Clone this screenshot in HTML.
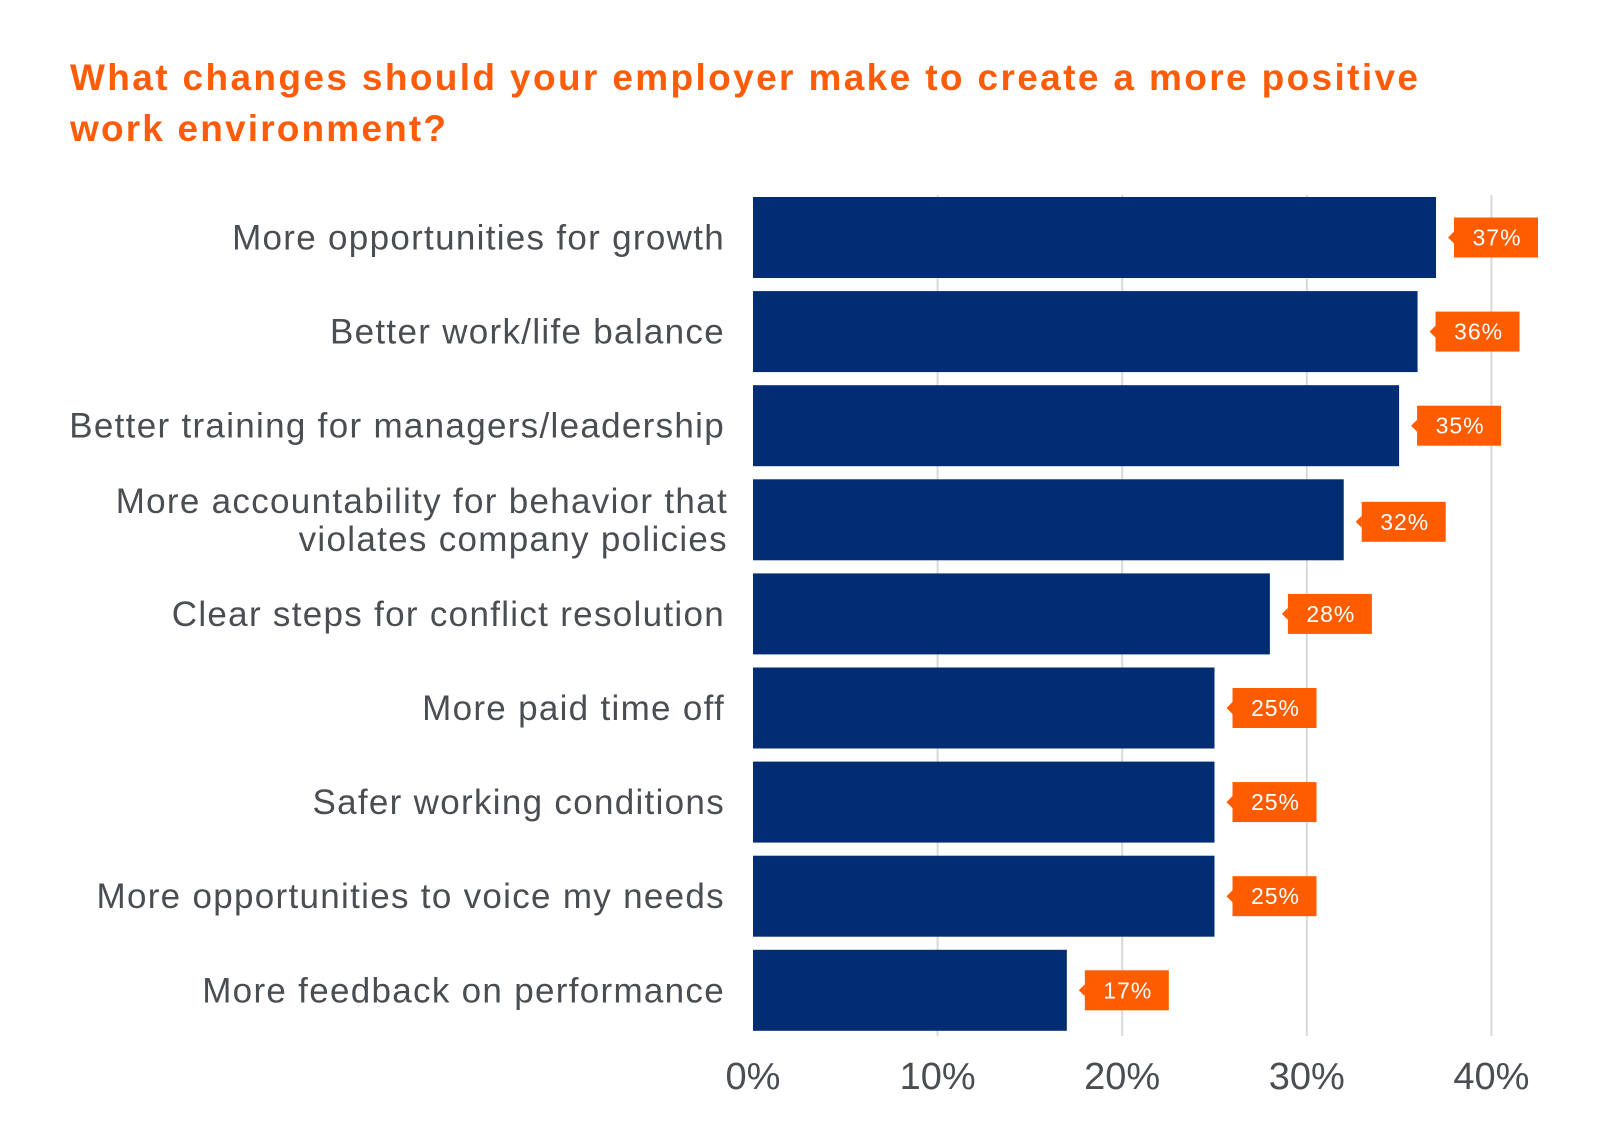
<!DOCTYPE html>
<html><head><meta charset="utf-8"><style>
body{margin:0;background:#fff;}
svg{display:block;font-family:"Liberation Sans",sans-serif;}
</style></head><body>
<svg id="chart" width="1600" height="1142">
<text font-size="37" font-weight="bold" fill="#ff5c0a"><tspan x="70" y="90" textLength="1348" lengthAdjust="spacing">What changes should your employer make to create a more positive</tspan><tspan x="70" y="141" textLength="376" lengthAdjust="spacing">work environment?</tspan></text>
<g id="grid"></g><g id="bars"></g><g id="labels"></g><g id="ticks"></g>
</svg>
<script>
const categories=[["More opportunities for growth"],["Better work/life balance"],["Better training for managers/leadership"],["More accountability for behavior that","violates company policies"],["Clear steps for conflict resolution"],["More paid time off"],["Safer working conditions"],["More opportunities to voice my needs"],["More feedback on performance"]];
const values=[37,36,35,32,28,25,25,25,17];
const tickValues=[0,10,20,30,40];
const tickLabels=["0%","10%","20%","30%","40%"];
const NS="http://www.w3.org/2000/svg";
const x0=753,unit=18.46,top0=197,pitch=94.1,bh=81;
const xs=v=>x0+v*unit, ys=i=>top0+i*pitch;
function mk(t,a,p){const e=document.createElementNS(NS,t);for(const k in a)e.setAttribute(k,a[k]);p.appendChild(e);return e;}
const G=document.getElementById('grid'),B=document.getElementById('bars'),L=document.getElementById('labels'),T=document.getElementById('ticks');
tickValues.forEach((v,i)=>{
 if(v>0){const g=mk('line',{x1:xs(v),x2:xs(v),y1:195,y2:1036,stroke:'#d9d9d9','stroke-width':2},G);
 
 }
 const t=mk('text',{x:xs(v),y:1089,'font-size':38,fill:'#4a4d52','text-anchor':'middle'},T);t.textContent=tickLabels[i];
 
 
});
values.forEach((v,i)=>{
 const y=ys(i);
 const r=mk('rect',{x:x0,y:y,width:xs(v)-x0,height:bh,fill:'#022d72'},B);
 
 
 const bx=xs(v)+18,cy=y+bh/2+(i==3?2:0);
 const g=mk('g',{},B);
 
 
 mk('rect',{x:bx,y:cy-20,width:84,height:40,fill:'#ff5c00'},g);
 mk('polygon',{points:`${bx},${cy-6} ${bx-6},${cy} ${bx},${cy+6}`,fill:'#ff5c00'},g);
 const t=mk('text',{x:bx+43,y:cy+8,'font-size':23,'letter-spacing':1,fill:'#fff','text-anchor':'middle'},g);t.textContent=v+'%';
 const c=categories[i];
 const lt=mk('text',{'font-size':35,'letter-spacing':1.3,fill:'#4a4d52','text-anchor':'end'},L);
 
 
 if(c.length==1){lt.setAttribute('x',725);lt.setAttribute('y',y+bh/2+12);lt.textContent=c[0];}
 else{c.forEach((s,j)=>{const ts=mk('tspan',{x:728,y:y+bh/2-7+j*38},lt);ts.textContent=s;});}
});
</script>
</body></html>
